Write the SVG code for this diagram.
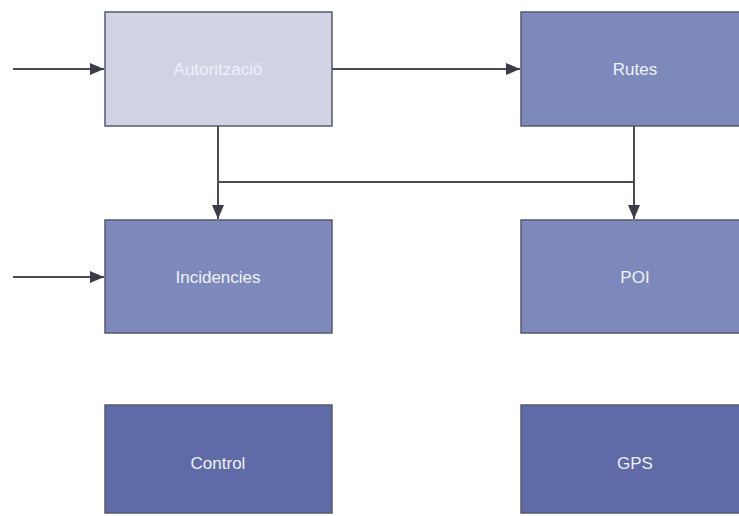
<svg xmlns="http://www.w3.org/2000/svg" width="739" height="516" viewBox="0 0 739 516">
  <style>
    .box { stroke: #55596e; stroke-width: 1.5; }
    .light { fill: #d0d3e3; }
    .mid { fill: #7e89bb; }
    .dark { fill: #5f6ba6; }
    .label { font-family: "Liberation Sans", Arial, sans-serif; font-size: 17px; fill: #eef0fa; text-anchor: middle; dominant-baseline: central; }
    .wire { fill: none; stroke: #4a4c58; stroke-width: 2; }
  </style>
  <defs>
    <marker id="arrow" viewBox="0 0 14 12" refX="14" refY="6" markerWidth="14" markerHeight="12" markerUnits="userSpaceOnUse" orient="auto">
      <path d="M0,0 L14,6 L0,12 Z" fill="#3a3c48"/>
    </marker>
  </defs>
  <rect width="739" height="516" fill="#ffffff"/>

  <!-- flow lines between the blocks -->
  <g id="connectors">
    <path class="wire" d="M13,69 H104" marker-end="url(#arrow)"/>
    <path class="wire" d="M332,69 H520" marker-end="url(#arrow)"/>
    <path class="wire" d="M13,277 H104" marker-end="url(#arrow)"/>
    <path class="wire" d="M218,126 V219" marker-end="url(#arrow)"/>
    <path class="wire" d="M634,126 V219" marker-end="url(#arrow)"/>
    <path class="wire" d="M218,182 H634"/>
  </g>

  <g id="autoritzacio">
    <rect class="box light" x="105" y="12" width="227" height="114"/>
    <text class="label" x="218" y="69">Autorització</text>
  </g>
  <g id="rutes">
    <rect class="box mid" x="521" y="12" width="227" height="114"/>
    <text class="label" x="635" y="69">Rutes</text>
  </g>
  <g id="incidencies">
    <rect class="box mid" x="105" y="220" width="227" height="113"/>
    <text class="label" x="218" y="277">Incidencies</text>
  </g>
  <g id="poi">
    <rect class="box mid" x="521" y="220" width="227" height="113"/>
    <text class="label" x="635" y="277">POI</text>
  </g>
  <g id="control">
    <rect class="box dark" x="105" y="405" width="227" height="108"/>
    <text class="label" x="218" y="463">Control</text>
  </g>
  <g id="gps">
    <rect class="box dark" x="521" y="405" width="227" height="108"/>
    <text class="label" x="635" y="463">GPS</text>
  </g>
</svg>
